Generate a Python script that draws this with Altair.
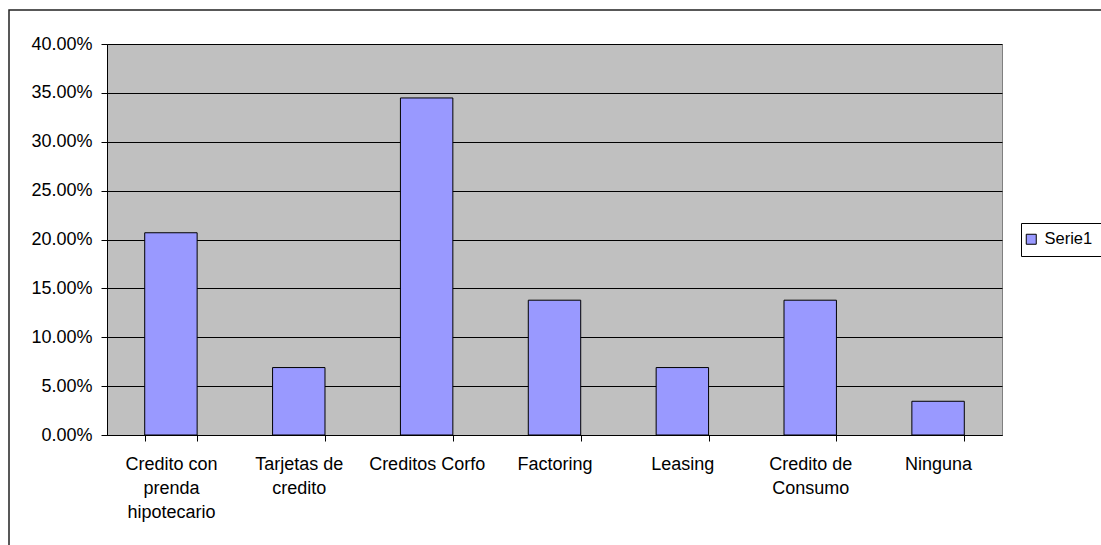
import altair as alt
import pandas as pd

categories = [
    "Credito con prenda hipotecario",
    "Tarjetas de credito",
    "Creditos Corfo",
    "Factoring",
    "Leasing",
    "Credito de Consumo",
    "Ninguna",
]
label_lines = [
    ["Credito con", "prenda", "hipotecario"],
    ["Tarjetas de", "credito"],
    ["Creditos Corfo"],
    ["Factoring"],
    ["Leasing"],
    ["Credito de", "Consumo"],
    ["Ninguna"],
]
values = [0.2069, 0.0690, 0.3448, 0.1379, 0.0690, 0.1379, 0.0345]
series_name = "Serie1"
y_ticks = [0.0, 0.05, 0.10, 0.15, 0.20, 0.25, 0.30, 0.35, 0.40]

df = pd.DataFrame({"categoria": categories, "valor": values, "serie": [series_name] * len(categories)})

# multi-line label expression
expr = "datum.label"
for cat, lines in reversed(list(zip(categories, label_lines))):
    arr = "[" + ",".join("'" + l + "'" for l in lines) + "]"
    expr = f"datum.label == '{cat}' ? {arr} : ({expr})"

W, H = 895, 391
LEFT, TOP = 107, 44

frame = alt.Chart(pd.DataFrame({"k": [0]})).mark_rect(
    fillOpacity=0, stroke="#222222", strokeWidth=1.5
).encode(
    x=alt.value(9 - LEFT),
    x2=alt.value(1400),
    y=alt.value(10 - TOP),
    y2=alt.value(900),
)

# legend box (extends past the right edge as in the reference)
legend_box = alt.Chart(pd.DataFrame({"k": [0]})).mark_rect(
    fill="white", stroke="black", strokeWidth=1
).encode(
    x=alt.value(1021.5 - LEFT),
    x2=alt.value(1300),
    y=alt.value(223.5 - TOP),
    y2=alt.value(256.5 - TOP),
)

bars = alt.Chart(df).mark_bar(stroke="black", strokeWidth=1).encode(
    x=alt.X(
        "categoria:N",
        sort=categories,
        title=None,
        scale=alt.Scale(paddingInner=0.59, paddingOuter=0.295),
        axis=alt.Axis(
            labelAngle=0,
            labelExpr=expr,
            tickBand="extent",
            tickSize=6,
            tickColor="black",
            domainColor="black",
            labelPadding=14,
            labelLineHeight=24.3,
            labelFontSize=18,
            labelColor="black",
            labelBaseline="top",
        ),
    ),
    y=alt.Y(
        "valor:Q",
        title=None,
        scale=alt.Scale(domain=[0, 0.4], nice=False),
        axis=alt.Axis(
            values=y_ticks,
            format=".2%",
            tickSize=6,
            tickColor="black",
            domainColor="black",
            gridColor="black",
            gridWidth=1,
            labelPadding=9,
            labelFontSize=18,
            labelColor="black",
        ),
    ),
    color=alt.Color(
        "serie:N",
        scale=alt.Scale(range=["#9999FF"]),
        legend=alt.Legend(
            title=None,
            orient="none",
            legendX=1021 - LEFT,
            legendY=224 - TOP,
            padding=7,
            symbolOffset=-5,
            symbolType="square",
            symbolSize=100,
            symbolStrokeColor="black",
            symbolStrokeWidth=1,
            labelFontSize=16.5,
            labelColor="black",
            labelOffset=5,
        ),
    ),
)

chart = alt.layer(frame, legend_box, bars).properties(
    width=W,
    height=H,
    autosize=alt.AutoSizeParams(type="none"),
    padding={"left": LEFT, "top": TOP, "right": 1101 - LEFT - W, "bottom": 545 - TOP - H},
    background="white",
).configure(
    font="Liberation Sans",
).configure_view(
    fill="#C0C0C0", stroke="#808080", strokeWidth=1
).configure_axis(
    labelFont="Liberation Sans",
).configure_legend(
    labelFont="Liberation Sans",
)

chart.save("out.html", embed_options={"renderer": "svg", "actions": False})
